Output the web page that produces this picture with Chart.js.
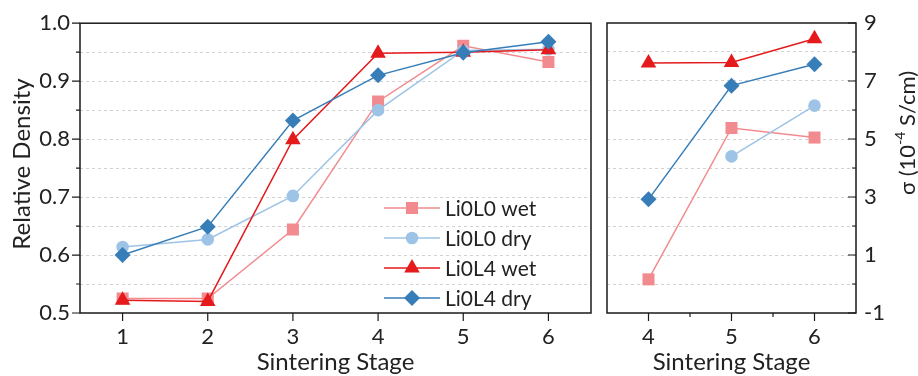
<!DOCTYPE html>
<html>
<head>
<meta charset="utf-8">
<script src="https://cdn.jsdelivr.net/npm/chart.js"></script>
<style>
  html, body { margin: 0; padding: 0; background: #fff; }
  #wrap { position: relative; width: 918px; height: 376px; }
  #cLeft { position: absolute; left: 0; top: 0; }
  #cRight { position: absolute; left: 598px; top: 0; }
</style>
</head>
<body>
<div id="wrap">
  <canvas id="cLeft" width="600" height="376"></canvas>
  <canvas id="cRight" width="320" height="376"></canvas>
</div>
<script>
// Left panel: relative density
const stagesLeft = [1, 2, 3, 4, 5, 6];
const densL0wet = [0.525, 0.525, 0.644, 0.865, 0.961, 0.933];
const densL0dry = [0.614, 0.627, 0.702, 0.850, 0.953, 0.955];
const densL4wet = [0.522, 0.520, 0.799, 0.948, 0.950, 0.954];
const densL4dry = [0.600, 0.649, 0.832, 0.910, 0.949, 0.968];

// Right panel: conductivity (10^-4 S/cm)
const stagesRight = [4, 5, 6];
const sigL0wet = [0.16, 5.38, 5.05];
const sigL0dry = [null, 4.40, 6.15];
const sigL4wet = [7.62, 7.64, 8.46];
const sigL4dry = [2.92, 6.84, 7.58];

const yMajorLeft = [0.5, 0.6, 0.7, 0.8, 0.9, 1.0];
const yMinorLeft = [0.55, 0.65, 0.75, 0.85, 0.95];
const yMajorRight = [-1, 1, 3, 5, 7, 9];
const yMinorRight = [0, 2, 4, 6, 8];
const xMinorRight = [4.5, 5.5];

const seriesNames = ['Li0L0 wet', 'Li0L0 dry', 'Li0L4 wet', 'Li0L4 dry'];
const colors = ['#f28b8f', '#9dc3e6', '#e41a1c', '#377eb8'];
const styles = ['rect', 'circle', 'triangle', 'rectRot'];
const radii = [8.5, 6.3, 9, 8];

const TEXT = '#222';
const FONT = 'Lato';
const TICK_SIZE = 22;
const TITLE_SIZE = 24;
Chart.defaults.font.family = FONT;
Chart.defaults.color = TEXT;

function pts(xs, ys) {
    return xs.map((x, i) => ({ x: x, y: ys[i] }));
}

function makeDatasets(xs, lists) {
    return lists.map((ys, i) => ({
        label: seriesNames[i],
        data: pts(xs, ys),
        borderColor: colors[i],
        backgroundColor: colors[i],
        pointBackgroundColor: colors[i],
        pointBorderColor: colors[i],
        pointBorderWidth: 0,
        pointStyle: styles[i],
        pointRadius: radii[i],
        borderWidth: 1.5,
        order: 4 - i,
        spanGaps: false
    }));
}

function drawMarker(ctx, style, x, y, r, color) {
    ctx.save();
    ctx.fillStyle = color;
    ctx.beginPath();
    if (style === 'rect') {
        const s = r * Math.SQRT1_2;
        ctx.rect(x - s, y - s, 2 * s, 2 * s);
    } else if (style === 'circle') {
        ctx.arc(x, y, r, 0, Math.PI * 2);
    } else if (style === 'triangle') {
        ctx.moveTo(x, y - r);
        ctx.lineTo(x + r * Math.sin(2 * Math.PI / 3), y + r / 2);
        ctx.lineTo(x - r * Math.sin(2 * Math.PI / 3), y + r / 2);
        ctx.closePath();
    } else {
        ctx.moveTo(x - r, y); ctx.lineTo(x, y - r);
        ctx.lineTo(x + r, y); ctx.lineTo(x, y + r);
        ctx.closePath();
    }
    ctx.fill();
    ctx.restore();
}

// frame, tick marks, titles and legend
function decoPlugin(opts) {
    return {
        id: 'deco',
        afterDraw(chart) {
            const ctx = chart.ctx;
            const a = chart.chartArea;
            const xs = chart.scales.x, ys = chart.scales.y;
            ctx.save();
            ctx.strokeStyle = '#1a1a1a';
            ctx.lineWidth = 1.5;
            ctx.strokeRect(a.left, a.top, a.right - a.left, a.bottom - a.top);

            ctx.lineWidth = 1.2;
            ctx.beginPath();
            opts.xMajor.forEach(v => {
                const px = xs.getPixelForValue(v);
                ctx.moveTo(px, a.bottom); ctx.lineTo(px, a.bottom + 8);
            });
            (opts.xMinor || []).forEach(v => {
                const px = xs.getPixelForValue(v);
                ctx.moveTo(px, a.bottom); ctx.lineTo(px, a.bottom + 4);
            });
            const yEdge = opts.right ? a.right : a.left;
            opts.yMajor.forEach(v => {
                const py = ys.getPixelForValue(v);
                ctx.moveTo(yEdge, py); ctx.lineTo(yEdge - 8, py);
            });
            opts.yMinor.forEach(v => {
                const py = ys.getPixelForValue(v);
                ctx.moveTo(yEdge, py); ctx.lineTo(yEdge - 4, py);
            });
            ctx.stroke();

            // x title
            ctx.fillStyle = TEXT;
            ctx.font = TITLE_SIZE + 'px ' + FONT;
            ctx.textAlign = 'center';
            ctx.textBaseline = 'alphabetic';
            ctx.fillText('Sintering Stage', (a.left + a.right) / 2, 370);

            if (opts.legend) {
                ctx.font = '21px ' + FONT;
                ctx.textAlign = 'left';
                ctx.textBaseline = 'middle';
                seriesNames.forEach((name, i) => {
                    const y = a.bottom - 105 + i * 30;
                    ctx.strokeStyle = colors[i];
                    ctx.lineWidth = 1.5;
                    ctx.beginPath();
                    ctx.moveTo(a.right - 207, y); ctx.lineTo(a.right - 151, y);
                    ctx.stroke();
                    drawMarker(ctx, styles[i], a.right - 179, y, radii[i], colors[i]);
                    ctx.fillStyle = TEXT;
                    ctx.fillText(name, a.right - 146, y + 1);
                });
            }

            // y title, reading bottom to top
            ctx.fillStyle = TEXT;
            ctx.translate(opts.yTitleX, opts.yTitleY);
            ctx.rotate(-Math.PI / 2);
            ctx.textBaseline = 'middle';
            ctx.textAlign = 'left';
            const parts = opts.yTitle;
            let w = 0;
            parts.forEach(p => { ctx.font = p.size + 'px ' + FONT; w += ctx.measureText(p.t).width; });
            let x = -w / 2;
            parts.forEach(p => {
                ctx.font = p.size + 'px ' + FONT;
                ctx.fillText(p.t, x, p.dy || 0);
                x += ctx.measureText(p.t).width;
            });
            ctx.restore();
        }
    };
}

function gridColor(min, max) {
    return c => {
        const v = c.tick ? c.tick.value : null;
        if (v === null || Math.abs(v - min) < 1e-9 || Math.abs(v - max) < 1e-9) return 'rgba(0,0,0,0)';
        return '#d2d2d2';
    };
}

new Chart(document.getElementById('cLeft'), {
    type: 'line',
    data: { datasets: makeDatasets(stagesLeft, [densL0wet, densL0dry, densL4wet, densL4dry]) },
    options: {
        responsive: false,
        animation: false,
        layout: { padding: { top: 23, right: 4, left: 0, bottom: 0 } },
        plugins: { legend: { display: false }, tooltip: { enabled: false } },
        scales: {
            x: {
                type: 'linear', min: 0.5, max: 6.5,
                afterBuildTicks: s => { s.ticks = stagesLeft.map(v => ({ value: v })); },
                afterFit: s => { s.height = 63; },
                grid: { display: false, drawTicks: false, tickLength: 0 },
                border: { display: false },
                ticks: { autoSkip: false, maxRotation: 0, padding: 11, font: { size: TICK_SIZE }, color: TEXT }
            },
            y: {
                type: 'linear', min: 0.5, max: 1.0,
                afterBuildTicks: s => {
                    s.ticks = yMajorLeft.concat(yMinorLeft).sort((p, q) => p - q).map(v => ({ value: v }));
                },
                afterFit: s => { s.width = 80; },
                grid: { color: gridColor(0.5, 1.0), lineWidth: 1, drawTicks: false, tickLength: 0 },
                border: { display: false, dash: [3, 3] },
                ticks: {
                    autoSkip: false, padding: 10, font: { size: TICK_SIZE }, color: TEXT,
                    callback: v => yMajorLeft.some(m => Math.abs(m - v) < 1e-9) ? v.toFixed(1) : ''
                }
            }
        }
    },
    plugins: [decoPlugin({
        xMajor: stagesLeft, yMajor: yMajorLeft, yMinor: yMinorLeft, legend: true, right: false,
        yTitleX: 22, yTitleY: 164,
        yTitle: [{ t: 'Relative Density', size: TITLE_SIZE }]
    })]
});

new Chart(document.getElementById('cRight'), {
    type: 'line',
    data: { datasets: makeDatasets(stagesRight, [sigL0wet, sigL0dry, sigL4wet, sigL4dry]) },
    options: {
        responsive: false,
        animation: false,
        layout: { padding: { top: 23, right: 0, left: 3, bottom: 0 } },
        plugins: { legend: { display: false }, tooltip: { enabled: false } },
        scales: {
            x: {
                type: 'linear', min: 3.5, max: 6.5,
                afterBuildTicks: s => { s.ticks = stagesRight.map(v => ({ value: v })); },
                afterFit: s => { s.height = 63; },
                grid: { display: false, drawTicks: false, tickLength: 0 },
                border: { display: false },
                ticks: { autoSkip: false, maxRotation: 0, padding: 11, font: { size: TICK_SIZE }, color: TEXT }
            },
            y: {
                type: 'linear', position: 'right', min: -1, max: 9,
                afterBuildTicks: s => {
                    s.ticks = yMajorRight.concat(yMinorRight).sort((p, q) => p - q).map(v => ({ value: v }));
                },
                afterFit: s => { s.width = 62; },
                grid: { color: gridColor(-1, 9), lineWidth: 1, drawTicks: false, tickLength: 0 },
                border: { display: false, dash: [3, 3] },
                ticks: {
                    autoSkip: false, padding: 8, font: { size: TICK_SIZE }, color: TEXT,
                    callback: v => yMajorRight.includes(v) ? String(v) : ''
                }
            }
        }
    },
    plugins: [decoPlugin({
        xMajor: stagesRight, xMinor: xMinorRight, yMajor: yMajorRight, yMinor: yMinorRight, legend: false, right: true,
        yTitleX: 310, yTitleY: 133,
        yTitle: [{ t: 'σ (10', size: 22 }, { t: '-4', size: 14, dy: -8 }, { t: ' S/cm)', size: 22 }]
    })]
});
</script>
</body>
</html>
